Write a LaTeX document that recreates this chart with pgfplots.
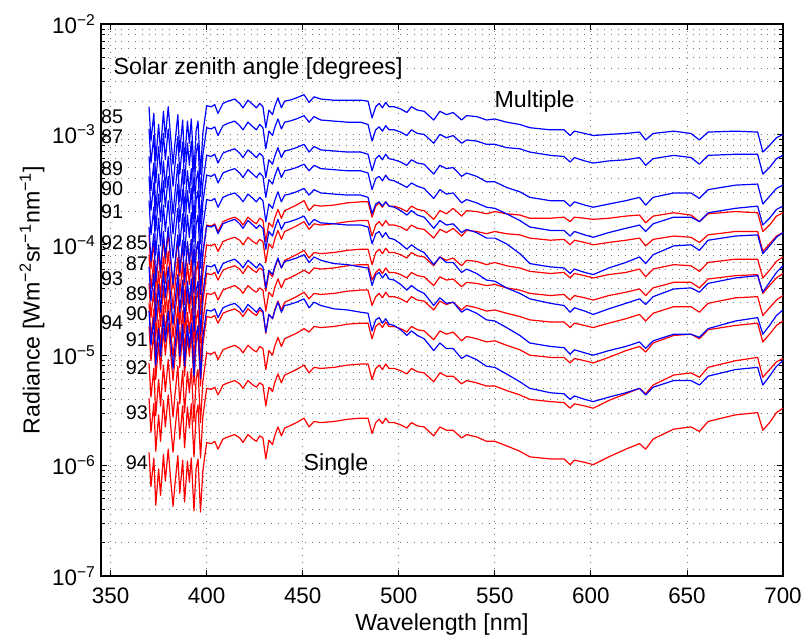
\documentclass[border=0pt]{standalone}
\usepackage{fontspec}
\setmainfont{Liberation Sans}
\usepackage{pgfplots}
\usepackage{pgfplotstable}
\pgfplotsset{compat=1.18}
\usetikzlibrary{calc}

\pgfplotstableread{
wl b85 b87 b89 b90 b91 b92 b93 b94 r85 r87 r89 r90 r91 r92 r93 r94
370 1.78e-3 1.12e-3 6.31e-4 4.17e-4 2.51e-4 1.45e-4 6.31e-5 2.51e-5 1.23e-4 8.13e-5 4.47e-5 2.95e-5 1.82e-5 8.51e-6 4.07e-6 1.32e-6
371 8.71e-4 5.50e-4 3.09e-4 2.04e-4 1.23e-4 7.08e-5 3.09e-5 1.23e-5 6.03e-5 3.98e-5 2.19e-5 1.45e-5 8.91e-6 4.17e-6 2.00e-6 6.46e-7
372.5 1.55e-3 9.77e-4 5.50e-4 3.63e-4 2.19e-4 1.26e-4 5.50e-5 2.19e-5 1.10e-4 7.24e-5 3.98e-5 2.63e-5 1.62e-5 7.59e-6 3.63e-6 1.17e-6
373.5 5.75e-4 3.63e-4 2.04e-4 1.35e-4 8.13e-5 4.68e-5 2.04e-5 8.13e-6 4.07e-5 2.69e-5 1.48e-5 9.77e-6 6.03e-6 2.82e-6 1.35e-6 4.37e-7
375 1.23e-3 7.76e-4 4.37e-4 2.88e-4 1.74e-4 1e-4 4.37e-5 1.74e-5 8.71e-5 5.75e-5 3.16e-5 2.09e-5 1.29e-5 6.03e-6 2.88e-6 9.33e-7
376 6.92e-4 4.37e-4 2.45e-4 1.62e-4 9.77e-5 5.62e-5 2.45e-5 9.77e-6 5.01e-5 3.31e-5 1.82e-5 1.20e-5 7.41e-6 3.47e-6 1.66e-6 5.37e-7
377.5 1.62e-3 1.02e-3 5.75e-4 3.80e-4 2.29e-4 1.32e-4 5.75e-5 2.29e-5 1.17e-4 7.76e-5 4.27e-5 2.82e-5 1.74e-5 8.13e-6 3.89e-6 1.26e-6
378.5 9.33e-4 5.89e-4 3.31e-4 2.19e-4 1.32e-4 7.59e-5 3.31e-5 1.32e-5 6.76e-5 4.47e-5 2.45e-5 1.62e-5 1e-5 4.68e-6 2.24e-6 7.24e-7
380 1.78e-3 1.12e-3 6.31e-4 4.17e-4 2.51e-4 1.45e-4 6.31e-5 2.51e-5 1.32e-4 8.71e-5 4.79e-5 3.16e-5 1.95e-5 9.12e-6 4.37e-6 1.41e-6
381 1.07e-3 6.76e-4 3.80e-4 2.51e-4 1.51e-4 8.71e-5 3.80e-5 1.51e-5 7.94e-5 5.25e-5 2.88e-5 1.91e-5 1.17e-5 5.50e-6 2.63e-6 8.51e-7
382.5 5.37e-4 3.39e-4 1.91e-4 1.26e-4 7.59e-5 4.37e-5 1.91e-5 7.59e-6 3.98e-5 2.63e-5 1.45e-5 9.55e-6 5.89e-6 2.75e-6 1.32e-6 4.27e-7
383.5 8.32e-4 5.25e-4 2.95e-4 1.95e-4 1.17e-4 6.76e-5 2.95e-5 1.17e-5 6.31e-5 4.17e-5 2.29e-5 1.51e-5 9.33e-6 4.37e-6 2.09e-6 6.76e-7
385 1.51e-3 9.55e-4 5.37e-4 3.55e-4 2.14e-4 1.23e-4 5.37e-5 2.14e-5 1.15e-4 7.59e-5 4.17e-5 2.75e-5 1.70e-5 7.94e-6 3.80e-6 1.23e-6
386 6.92e-4 4.37e-4 2.45e-4 1.62e-4 9.77e-5 5.62e-5 2.45e-5 9.77e-6 5.25e-5 3.47e-5 1.91e-5 1.26e-5 7.76e-6 3.63e-6 1.74e-6 5.62e-7
387.5 1.35e-3 8.51e-4 4.79e-4 3.16e-4 1.91e-4 1.10e-4 4.79e-5 1.91e-5 1.05e-4 6.92e-5 3.80e-5 2.51e-5 1.55e-5 7.24e-6 3.47e-6 1.12e-6
388.5 5.62e-4 3.55e-4 2.00e-4 1.32e-4 7.94e-5 4.57e-5 2.00e-5 7.94e-6 4.37e-5 2.88e-5 1.58e-5 1.05e-5 6.46e-6 3.02e-6 1.45e-6 4.68e-7
390 1.32e-3 8.32e-4 4.68e-4 3.09e-4 1.86e-4 1.07e-4 4.68e-5 1.86e-5 1.02e-4 6.76e-5 3.72e-5 2.45e-5 1.51e-5 7.08e-6 3.39e-6 1.10e-6
391 8.32e-4 5.25e-4 2.95e-4 1.95e-4 1.17e-4 6.76e-5 2.95e-5 1.17e-5 6.61e-5 4.37e-5 2.40e-5 1.58e-5 9.77e-6 4.57e-6 2.19e-6 7.08e-7
392 1.38e-3 8.71e-4 4.90e-4 3.24e-4 1.95e-4 1.12e-4 4.90e-5 1.95e-5 1.10e-4 7.24e-5 3.98e-5 2.63e-5 1.62e-5 7.59e-6 3.63e-6 1.17e-6
393.4 4.57e-4 2.88e-4 1.62e-4 1.07e-4 6.46e-5 3.72e-5 1.62e-5 6.46e-6 3.63e-5 2.40e-5 1.32e-5 8.71e-6 5.37e-6 2.51e-6 1.20e-6 3.89e-7
394.5 1.07e-3 6.76e-4 3.80e-4 2.51e-4 1.51e-4 8.71e-5 3.80e-5 1.51e-5 8.71e-5 5.75e-5 3.16e-5 2.09e-5 1.29e-5 6.03e-6 2.88e-6 9.33e-7
395.5 1.32e-3 8.32e-4 4.68e-4 3.09e-4 1.86e-4 1.07e-4 4.68e-5 1.86e-5 1.07e-4 7.08e-5 3.89e-5 2.57e-5 1.58e-5 7.41e-6 3.55e-6 1.15e-6
396.8 4.37e-4 2.75e-4 1.55e-4 1.02e-4 6.17e-5 3.55e-5 1.55e-5 6.17e-6 3.55e-5 2.34e-5 1.29e-5 8.51e-6 5.25e-6 2.45e-6 1.17e-6 3.80e-7
398 1.02e-3 6.46e-4 3.63e-4 2.40e-4 1.45e-4 8.32e-5 3.63e-5 1.45e-5 8.32e-5 5.50e-5 3.02e-5 2.00e-5 1.23e-5 5.75e-6 2.75e-6 8.91e-7
400 1.82e-3 1.15e-3 6.46e-4 4.27e-4 2.57e-4 1.48e-4 6.46e-5 2.57e-5 1.51e-4 1e-4 5.50e-5 3.63e-5 2.24e-5 1.05e-5 5.01e-6 1.62e-6
402.4 1.78e-3 1.12e-3 6.31e-4 4.17e-4 2.51e-4 1.45e-4 6.31e-5 2.51e-5 1.48e-4 9.77e-5 5.37e-5 3.55e-5 2.19e-5 1.02e-5 4.90e-6 1.58e-6
404.2 1.86e-3 1.17e-3 6.61e-4 4.37e-4 2.63e-4 1.51e-4 6.61e-5 2.63e-5 1.55e-4 1.02e-4 5.62e-5 3.72e-5 2.29e-5 1.07e-5 5.13e-6 1.66e-6
405.9 1.55e-3 9.77e-4 5.50e-4 3.63e-4 2.19e-4 1.26e-4 5.50e-5 2.19e-5 1.32e-4 8.71e-5 4.79e-5 3.16e-5 1.95e-5 9.12e-6 4.37e-6 1.41e-6
408.5 1.91e-3 1.20e-3 6.76e-4 4.47e-4 2.69e-4 1.55e-4 6.76e-5 2.69e-5 1.62e-4 1.07e-4 5.89e-5 3.89e-5 2.40e-5 1.12e-5 5.37e-6 1.74e-6
411.1 2.00e-3 1.26e-3 7.08e-4 4.68e-4 2.82e-4 1.62e-4 7.08e-5 2.82e-5 1.70e-4 1.12e-4 6.17e-5 4.07e-5 2.51e-5 1.17e-5 5.62e-6 1.82e-6
414.6 2.09e-3 1.32e-3 7.41e-4 4.90e-4 2.95e-4 1.70e-4 7.41e-5 2.95e-5 1.78e-4 1.17e-4 6.46e-5 4.27e-5 2.63e-5 1.23e-5 5.89e-6 1.91e-6
417.2 1.91e-3 1.20e-3 6.76e-4 4.47e-4 2.69e-4 1.55e-4 6.76e-5 2.69e-5 1.66e-4 1.10e-4 6.03e-5 3.98e-5 2.45e-5 1.15e-5 5.50e-6 1.78e-6
418.9 1.74e-3 1.10e-3 6.17e-4 4.07e-4 2.45e-4 1.41e-4 6.17e-5 2.45e-5 1.51e-4 1e-4 5.50e-5 3.63e-5 2.24e-5 1.05e-5 5.01e-6 1.62e-6
421.5 2.04e-3 1.29e-3 7.24e-4 4.79e-4 2.88e-4 1.66e-4 7.24e-5 2.88e-5 1.78e-4 1.17e-4 6.46e-5 4.27e-5 2.63e-5 1.23e-5 5.89e-6 1.91e-6
424.1 1.86e-3 1.17e-3 6.61e-4 4.37e-4 2.63e-4 1.51e-4 6.61e-5 2.63e-5 1.62e-4 1.07e-4 5.89e-5 3.89e-5 2.40e-5 1.12e-5 5.37e-6 1.74e-6
425.9 1.74e-3 1.10e-3 6.17e-4 4.07e-4 2.45e-4 1.41e-4 6.17e-5 2.45e-5 1.55e-4 1.02e-4 5.62e-5 3.72e-5 2.29e-5 1.07e-5 5.13e-6 1.66e-6
427.6 1.91e-3 1.23e-3 6.76e-4 4.47e-4 2.69e-4 1.51e-4 6.76e-5 2.69e-5 1.74e-4 1.12e-4 6.17e-5 4.07e-5 2.57e-5 1.20e-5 5.62e-6 1.86e-6
429.3 1.78e-3 1.15e-3 6.31e-4 4.17e-4 2.51e-4 1.41e-4 6.31e-5 2.51e-5 1.66e-4 1.07e-4 5.89e-5 3.89e-5 2.45e-5 1.15e-5 5.37e-6 1.78e-6
430.8 1.15e-3 7.41e-4 4.07e-4 2.69e-4 1.62e-4 9.12e-5 4.07e-5 1.62e-5 1.07e-4 6.92e-5 3.80e-5 2.51e-5 1.58e-5 7.41e-6 3.47e-6 1.15e-6
432.4 1.66e-3 1.07e-3 5.89e-4 3.89e-4 2.34e-4 1.32e-4 5.89e-5 2.34e-5 1.58e-4 1.02e-4 5.62e-5 3.72e-5 2.34e-5 1.10e-5 5.13e-6 1.70e-6
434.3 1.51e-3 9.77e-4 5.37e-4 3.55e-4 2.14e-4 1.20e-4 5.37e-5 2.14e-5 1.45e-4 9.33e-5 5.13e-5 3.39e-5 2.14e-5 1e-5 4.68e-6 1.55e-6
435.4 1.78e-3 1.15e-3 6.31e-4 4.17e-4 2.51e-4 1.41e-4 6.31e-5 2.51e-5 1.74e-4 1.12e-4 6.17e-5 4.07e-5 2.57e-5 1.20e-5 5.62e-6 1.86e-6
437.1 2.14e-3 1.38e-3 7.59e-4 5.01e-4 3.02e-4 1.70e-4 7.59e-5 3.02e-5 2.09e-4 1.35e-4 7.41e-5 4.90e-5 3.09e-5 1.45e-5 6.76e-6 2.24e-6
438.9 1.74e-3 1.12e-3 6.17e-4 4.07e-4 2.45e-4 1.38e-4 6.17e-5 2.45e-5 1.74e-4 1.12e-4 6.17e-5 4.07e-5 2.57e-5 1.20e-5 5.62e-6 1.86e-6
440.6 2.00e-3 1.29e-3 7.08e-4 4.68e-4 2.82e-4 1.58e-4 7.08e-5 2.82e-5 2.04e-4 1.32e-4 7.24e-5 4.79e-5 3.02e-5 1.41e-5 6.61e-6 2.19e-6
443.2 2.04e-3 1.32e-3 7.24e-4 4.79e-4 2.88e-4 1.62e-4 7.24e-5 2.88e-5 2.14e-4 1.38e-4 7.59e-5 5.01e-5 3.16e-5 1.48e-5 6.92e-6 2.29e-6
446.7 2.14e-3 1.38e-3 7.59e-4 5.01e-4 3.02e-4 1.70e-4 7.59e-5 3.02e-5 2.29e-4 1.48e-4 8.13e-5 5.37e-5 3.39e-5 1.58e-5 7.41e-6 2.45e-6
450.7 2.29e-3 1.48e-3 8.13e-4 5.37e-4 3.24e-4 1.82e-4 8.13e-5 3.24e-5 2.51e-4 1.62e-4 8.91e-5 5.89e-5 3.72e-5 1.74e-5 8.13e-6 2.69e-6
453.3 1.95e-3 1.29e-3 6.92e-4 4.68e-4 2.82e-4 1.51e-4 6.92e-5 2.69e-5 2.04e-4 1.38e-4 7.59e-5 5.50e-5 3.24e-5 1.62e-5 6.92e-6 2.24e-6
455.9 2.19e-3 1.45e-3 7.76e-4 5.25e-4 3.16e-4 1.70e-4 7.76e-5 3.02e-5 2.29e-4 1.55e-4 8.51e-5 6.17e-5 3.63e-5 1.82e-5 7.76e-6 2.51e-6
459.4 2.09e-3 1.35e-3 7.24e-4 4.90e-4 2.95e-4 1.58e-4 7.24e-5 2.82e-5 2.24e-4 1.51e-4 8.32e-5 6.03e-5 3.55e-5 1.78e-5 7.59e-6 2.45e-6
466.3 2.04e-3 1.32e-3 7.08e-4 4.79e-4 2.88e-4 1.55e-4 6.76e-5 2.63e-5 2.29e-4 1.55e-4 8.51e-5 6.17e-5 3.63e-5 1.82e-5 7.76e-6 2.51e-6
473.3 2.04e-3 1.29e-3 6.92e-4 4.68e-4 2.82e-4 1.51e-4 6.61e-5 2.57e-5 2.40e-4 1.62e-4 8.91e-5 6.46e-5 3.80e-5 1.91e-5 8.13e-6 2.63e-6
480.2 2.04e-3 1.29e-3 6.92e-4 4.68e-4 2.82e-4 1.51e-4 6.31e-5 2.45e-5 2.45e-4 1.66e-4 9.12e-5 6.61e-5 3.89e-5 1.95e-5 8.32e-6 2.69e-6
484.0 2.00e-3 1.23e-3 6.61e-4 4.47e-4 2.69e-4 1.45e-4 6.17e-5 2.40e-5 2.45e-4 1.66e-4 9.12e-5 6.61e-5 3.89e-5 1.95e-5 8.32e-6 2.69e-6
486.1 1.41e-3 8.71e-4 4.68e-4 3.16e-4 1.91e-4 1.02e-4 4.27e-5 1.66e-5 1.78e-4 1.20e-4 6.61e-5 4.79e-5 2.82e-5 1.41e-5 6.03e-6 1.95e-6
488.0 1.78e-3 1.10e-3 6.03e-4 3.98e-4 2.34e-4 1.26e-4 5.37e-5 2.09e-5 2.24e-4 1.51e-4 8.51e-5 5.62e-5 3.39e-5 1.82e-5 7.59e-6 2.45e-6
489.8 1.91e-3 1.17e-3 6.46e-4 4.17e-4 2.45e-4 1.32e-4 5.62e-5 2.19e-5 2.40e-4 1.62e-4 9.12e-5 6.03e-5 3.63e-5 1.95e-5 8.13e-6 2.63e-6
491.5 1.74e-3 1.07e-3 5.89e-4 3.80e-4 2.24e-4 1.17e-4 5.01e-5 1.95e-5 2.19e-4 1.48e-4 8.32e-5 5.50e-5 3.31e-5 1.78e-5 7.41e-6 2.40e-6
493.2 1.95e-3 1.20e-3 6.61e-4 4.27e-4 2.45e-4 1.29e-4 5.50e-5 2.14e-5 2.45e-4 1.66e-4 9.33e-5 6.17e-5 3.72e-5 2.00e-5 8.32e-6 2.69e-6
494.9 1.78e-3 1.10e-3 6.03e-4 3.89e-4 2.24e-4 1.15e-4 4.90e-5 1.91e-5 2.24e-4 1.51e-4 8.51e-5 5.62e-5 3.39e-5 1.82e-5 7.59e-6 2.45e-6
497.6 1.78e-3 1.10e-3 5.89e-4 3.80e-4 2.19e-4 1.12e-4 4.79e-5 1.86e-5 2.24e-4 1.51e-4 8.51e-5 5.62e-5 3.39e-5 1.82e-5 7.59e-6 2.45e-6
501.0 1.70e-3 1.05e-3 5.62e-4 3.55e-4 2.04e-4 1.02e-4 4.37e-5 1.70e-5 2.14e-4 1.45e-4 8.13e-5 5.37e-5 3.24e-5 1.74e-5 7.24e-6 2.34e-6
504.2 1.58e-3 9.77e-4 5.25e-4 3.31e-4 1.86e-4 9.12e-5 3.89e-5 1.51e-5 2.00e-4 1.35e-4 7.59e-5 5.01e-5 3.02e-5 1.62e-5 6.76e-6 2.19e-6
506.6 1.78e-3 1.10e-3 5.89e-4 3.63e-4 2.04e-4 1e-4 4.27e-5 1.66e-5 2.24e-4 1.51e-4 8.51e-5 5.62e-5 3.39e-5 1.82e-5 7.59e-6 2.45e-6
509.7 1.66e-3 1.02e-3 5.50e-4 3.39e-4 1.86e-4 9.12e-5 3.89e-5 1.51e-5 2.09e-4 1.41e-4 7.94e-5 5.25e-5 3.16e-5 1.70e-5 7.08e-6 2.29e-6
513.2 1.62e-3 1e-3 5.37e-4 3.24e-4 1.78e-4 8.51e-5 3.63e-5 1.41e-5 2.04e-4 1.38e-4 7.76e-5 5.13e-5 3.09e-5 1.66e-5 6.92e-6 2.24e-6
518.2 1.35e-3 8.32e-4 4.37e-4 2.63e-4 1.41e-4 6.61e-5 2.82e-5 1.10e-5 1.70e-4 1.15e-4 6.46e-5 4.27e-5 2.57e-5 1.38e-5 5.75e-6 1.86e-6
521.4 1.62e-3 1e-3 5.25e-4 3.16e-4 1.66e-4 7.76e-5 3.31e-5 1.29e-5 2.04e-4 1.38e-4 7.76e-5 5.13e-5 3.09e-5 1.66e-5 6.92e-6 2.24e-6
524.8 1.51e-3 9.33e-4 4.90e-4 2.88e-4 1.51e-4 6.92e-5 2.95e-5 1.15e-5 1.91e-4 1.29e-4 7.24e-5 4.79e-5 2.88e-5 1.55e-5 6.46e-6 2.09e-6
528.3 1.58e-3 9.77e-4 5.01e-4 2.95e-4 1.55e-4 6.92e-5 3.02e-5 1.15e-5 2.14e-4 1.41e-4 7.59e-5 4.90e-5 3.02e-5 1.62e-5 6.46e-6 2.09e-6
532.7 1.35e-3 8.32e-4 4.17e-4 2.40e-4 1.29e-4 5.62e-5 2.45e-5 9.33e-6 1.82e-4 1.20e-4 6.46e-5 4.17e-5 2.57e-5 1.35e-5 5.50e-6 1.78e-6
535.3 1.48e-3 8.91e-4 4.47e-4 2.57e-4 1.38e-4 6.03e-5 2.63e-5 1e-5 2.04e-4 1.35e-4 7.24e-5 4.57e-5 2.82e-5 1.48e-5 5.89e-6 1.91e-6
540.5 1.45e-3 8.71e-4 4.17e-4 2.40e-4 1.29e-4 5.50e-5 2.40e-5 9.12e-6 2.00e-4 1.32e-4 7.08e-5 4.47e-5 2.69e-5 1.41e-5 5.62e-6 1.82e-6
545.7 1.35e-3 8.13e-4 3.72e-4 2.19e-4 1.15e-4 4.79e-5 2.09e-5 7.94e-6 1.91e-4 1.26e-4 6.61e-5 4.27e-5 2.51e-5 1.32e-5 5.25e-6 1.66e-6
550.0 1.38e-3 8.13e-4 3.72e-4 2.14e-4 1.15e-4 4.68e-5 2.04e-5 7.76e-6 2.00e-4 1.32e-4 6.92e-5 4.37e-5 2.57e-5 1.35e-5 5.25e-6 1.66e-6
556.1 1.29e-3 7.59e-4 3.31e-4 1.91e-4 1.02e-4 4.07e-5 1.78e-5 6.76e-6 1.91e-4 1.26e-4 6.46e-5 4.07e-5 2.40e-5 1.23e-5 4.79e-6 1.51e-6
563.0 1.23e-3 7.41e-4 3.02e-4 1.66e-4 8.32e-5 3.63e-5 1.51e-5 5.75e-6 1.86e-4 1.23e-4 6.17e-5 3.89e-5 2.24e-5 1.12e-5 4.37e-6 1.35e-6
568.2 1.15e-3 6.92e-4 2.69e-4 1.45e-4 6.76e-5 3.24e-5 1.29e-5 5.01e-6 1.74e-4 1.15e-4 5.75e-5 3.63e-5 2.09e-5 1e-5 3.98e-6 1.20e-6
578.9 1.10e-3 6.46e-4 2.51e-4 1.35e-4 6.31e-5 2.95e-5 1.20e-5 4.57e-6 1.74e-4 1.10e-4 5.50e-5 3.47e-5 2.00e-5 9.55e-6 3.80e-6 1.15e-6
586.0 1.10e-3 6.31e-4 2.51e-4 1.35e-4 6.17e-5 2.82e-5 1.17e-5 4.47e-6 1.78e-4 1.12e-4 5.62e-5 3.55e-5 2.00e-5 9.55e-6 3.72e-6 1.15e-6
589.2 9.77e-4 5.62e-4 2.24e-4 1.20e-4 5.50e-5 2.45e-5 1.02e-5 3.98e-6 1.62e-4 1e-4 5.01e-5 3.16e-5 1.78e-5 8.51e-6 3.31e-6 1.02e-6
591.4 1.07e-3 6.17e-4 2.45e-4 1.32e-4 6.03e-5 2.69e-5 1.12e-5 4.27e-6 1.78e-4 1.10e-4 5.50e-5 3.47e-5 1.95e-5 9.33e-6 3.63e-6 1.12e-6
596.8 1.02e-3 5.75e-4 2.29e-4 1.23e-4 5.62e-5 2.51e-5 1.05e-5 3.98e-6 1.74e-4 1.05e-4 5.25e-5 3.31e-5 1.86e-5 8.91e-6 3.47e-6 1.07e-6
601.2 9.77e-4 5.50e-4 2.19e-4 1.17e-4 5.37e-5 2.34e-5 1e-5 3.80e-6 1.70e-4 1e-4 5.01e-5 3.16e-5 1.78e-5 8.51e-6 3.31e-6 1.02e-6
609.3 1e-3 5.75e-4 2.34e-4 1.29e-4 6.17e-5 2.63e-5 1.10e-5 4.17e-6 1.74e-4 1.05e-4 5.37e-5 3.47e-5 1.95e-5 9.55e-6 3.89e-6 1.20e-6
618.2 1.02e-3 5.89e-4 2.51e-4 1.41e-4 6.92e-5 2.95e-5 1.20e-5 4.57e-6 1.82e-4 1.10e-4 5.62e-5 3.72e-5 2.14e-5 1.10e-5 4.47e-6 1.41e-6
625.3 1.05e-3 6.17e-4 2.69e-4 1.51e-4 7.76e-5 3.24e-5 1.32e-5 5.01e-6 1.86e-4 1.15e-4 6.03e-5 3.98e-5 2.34e-5 1.20e-5 5.01e-6 1.58e-6
628.5 8.91e-4 5.25e-4 2.29e-4 1.32e-4 6.76e-5 2.88e-5 1.15e-5 4.37e-6 1.58e-4 9.77e-5 5.13e-5 3.47e-5 2.04e-5 1.07e-5 4.47e-6 1.41e-6
632.4 1.02e-3 6.03e-4 2.69e-4 1.55e-4 8.13e-5 3.39e-5 1.35e-5 5.13e-6 1.82e-4 1.12e-4 6.03e-5 4.07e-5 2.40e-5 1.29e-5 5.37e-6 1.74e-6
643.1 1.07e-3 6.46e-4 2.95e-4 1.78e-4 9.77e-5 3.98e-5 1.55e-5 5.89e-6 1.95e-4 1.20e-4 6.61e-5 4.57e-5 2.75e-5 1.51e-5 6.61e-6 2.14e-6
652.1 1.02e-3 6.17e-4 2.95e-4 1.78e-4 1e-4 4.07e-5 1.55e-5 5.89e-6 1.86e-4 1.17e-4 6.46e-5 4.57e-5 2.75e-5 1.55e-5 6.92e-6 2.24e-6
656.5 8.91e-4 5.37e-4 2.63e-4 1.62e-4 8.91e-5 3.72e-5 1.45e-5 5.37e-6 1.62e-4 1.05e-4 5.75e-5 4.07e-5 2.45e-5 1.41e-5 6.31e-6 2.04e-6
661.0 1.05e-3 6.46e-4 3.16e-4 1.95e-4 1.10e-4 4.47e-5 1.74e-5 6.46e-6 1.91e-4 1.23e-4 6.92e-5 4.90e-5 2.95e-5 1.70e-5 7.76e-6 2.51e-6
675.2 1.07e-3 6.61e-4 3.47e-4 2.14e-4 1.20e-4 5.01e-5 2.04e-5 7.41e-6 2.00e-4 1.32e-4 7.41e-5 5.25e-5 3.31e-5 1.86e-5 8.91e-6 2.88e-6
686.8 1.05e-3 6.61e-4 3.55e-4 2.24e-4 1.23e-4 5.25e-5 2.19e-5 7.76e-6 1.95e-4 1.32e-4 7.41e-5 5.37e-5 3.39e-5 1.95e-5 9.55e-6 3.02e-6
689.5 6.92e-4 4.37e-4 2.34e-4 1.51e-4 8.32e-5 3.72e-5 1.55e-5 5.37e-6 1.32e-4 8.71e-5 5.01e-5 3.63e-5 2.29e-5 1.32e-5 6.31e-6 2.09e-6
693.0 7.94e-4 5.01e-4 2.75e-4 1.74e-4 9.77e-5 4.57e-5 1.86e-5 6.46e-6 1.51e-4 1.02e-4 5.89e-5 4.27e-5 2.69e-5 1.55e-5 7.41e-6 2.45e-6
696.6 9.33e-4 6.03e-4 3.24e-4 2.09e-4 1.17e-4 5.62e-5 2.29e-5 7.94e-6 1.82e-4 1.20e-4 7.08e-5 5.01e-5 3.16e-5 1.86e-5 8.71e-6 3.02e-6
700 1e-3 6.46e-4 3.47e-4 2.24e-4 1.29e-4 6.46e-5 2.57e-5 8.91e-6 1.95e-4 1.29e-4 7.76e-5 5.50e-5 3.47e-5 2.04e-5 9.33e-6 3.31e-6
}\datatable

\newcommand{\tickfont}{\fontsize{11.2}{13}\selectfont}
\newcommand{\txtfont}{\fontsize{11.6}{14}\selectfont}
\newcommand{\szafont}{\fontsize{9.9}{11}\selectfont}

\begin{document}
\begin{tikzpicture}
\begin{axis}[
  scale only axis,
  width=341pt, height=276pt,
  xmin=345, xmax=700,
  ymode=log, ymin=1e-7, ymax=1e-2,
  xtick={350,400,450,500,550,600,650,700},
  xticklabels={350,400,450,500,550,600,650,700},
  ytick={1e-7,1e-6,1e-5,1e-4,1e-3,1e-2},
  yticklabels={10\textsuperscript{−7},10\textsuperscript{−6},10\textsuperscript{−5},10\textsuperscript{−4},10\textsuperscript{−3},10\textsuperscript{−2}},
  tick label style={font=\tickfont},
  xticklabel style={yshift=-2.5pt},
  yticklabel style={xshift=1pt},
  tick align=inside,
  major tick length=3pt,
  minor tick length=1.8pt,
  tick style={black, line width=0.4pt},
  axis line style={black, line width=0.6pt},
  xmajorgrids, ymajorgrids, yminorgrids,
  grid style={black!55, line width=0.4pt, dash pattern=on 0.4pt off 3pt},
  minor grid style={black!55, line width=0.4pt, dash pattern=on 0.4pt off 3pt},
  xlabel={Wavelength [nm]},
  ylabel={Radiance [Wm\textsuperscript{−2}sr\textsuperscript{−1}nm\textsuperscript{−1}]},
  label style={font=\txtfont},
  xlabel style={at={(axis description cs:0.5,-0.087)}, anchor=center},
  ylabel style={at={(axis description cs:-0.1012,0.5)}, anchor=center},
  clip mode=individual,
  every axis plot/.append style={line width=0.6pt, line join=round, no markers},
]
\addplot[blue] table[x=wl,y=b85] {\datatable};
\addplot[red]  table[x=wl,y=r85] {\datatable};
\addplot[blue] table[x=wl,y=b87] {\datatable};
\addplot[red]  table[x=wl,y=r87] {\datatable};
\addplot[blue] table[x=wl,y=b89] {\datatable};
\addplot[red]  table[x=wl,y=r89] {\datatable};
\addplot[blue] table[x=wl,y=b90] {\datatable};
\addplot[red]  table[x=wl,y=r90] {\datatable};
\addplot[blue] table[x=wl,y=b91] {\datatable};
\addplot[red]  table[x=wl,y=r91] {\datatable};
\addplot[blue] table[x=wl,y=b92] {\datatable};
\addplot[red]  table[x=wl,y=r92] {\datatable};
\addplot[blue] table[x=wl,y=b93] {\datatable};
\addplot[red]  table[x=wl,y=r93] {\datatable};
\addplot[blue] table[x=wl,y=b94] {\datatable};
\addplot[red]  table[x=wl,y=r94] {\datatable};

\node[anchor=west, inner sep=0pt, font=\txtfont] at (axis cs:351.4,3.96e-3) {Solar zenith angle [degrees]};
\node[anchor=west, inner sep=0pt, font=\txtfont] at (axis cs:549.7,1.98e-3) {Multiple};
\node[anchor=west, inner sep=0pt, font=\txtfont] at (axis cs:450.3,1.03e-6) {Single};

\node[anchor=west, inner sep=0pt, font=\szafont] at (axis cs:344.9,1.44e-3) {85};
\node[anchor=west, inner sep=0pt, font=\szafont] at (axis cs:344.9,9.46e-4) {87};
\node[anchor=west, inner sep=0pt, font=\szafont] at (axis cs:344.9,4.94e-4) {89};
\node[anchor=west, inner sep=0pt, font=\szafont] at (axis cs:344.9,3.20e-4) {90};
\node[anchor=west, inner sep=0pt, font=\szafont] at (axis cs:344.9,1.98e-4) {91};
\node[anchor=west, inner sep=0pt, font=\szafont] at (axis cs:344.9,1.04e-4) {92};
\node[anchor=west, inner sep=0pt, font=\szafont] at (axis cs:344.9,4.98e-5) {93};
\node[anchor=west, inner sep=0pt, font=\szafont] at (axis cs:344.9,1.99e-5) {94};

\node[anchor=west, inner sep=0pt, font=\szafont] at (axis cs:357.8,1.04e-4) {85};
\node[anchor=west, inner sep=0pt, font=\szafont] at (axis cs:357.8,6.81e-5) {87};
\node[anchor=west, inner sep=0pt, font=\szafont] at (axis cs:357.8,3.64e-5) {89};
\node[anchor=west, inner sep=0pt, font=\szafont] at (axis cs:357.8,2.40e-5) {90};
\node[anchor=west, inner sep=0pt, font=\szafont] at (axis cs:357.8,1.39e-5) {91};
\node[anchor=west, inner sep=0pt, font=\szafont] at (axis cs:357.8,7.76e-6) {92};
\node[anchor=west, inner sep=0pt, font=\szafont] at (axis cs:357.8,3.03e-6) {93};
\node[anchor=west, inner sep=0pt, font=\szafont] at (axis cs:357.8,1.07e-6) {94};
\end{axis}
\pgfresetboundingbox
\path ($(current axis.south west)+(-50.5pt,-32.5pt)$) rectangle ($(current axis.north east)+(11pt,12pt)$);
\end{tikzpicture}
\end{document}
